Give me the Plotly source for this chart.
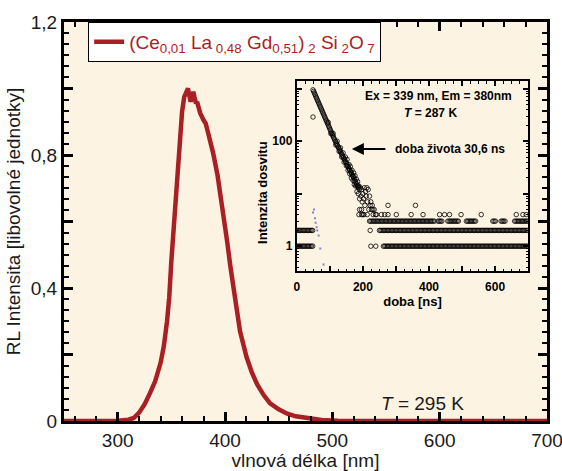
import numpy as np
import plotly.graph_objects as go

# ---------------- main RL spectrum ----------------
wavelength = [250, 280, 300, 310, 315, 320, 325, 330, 335, 340, 343, 346, 348, 350, 352, 354,
              356, 358, 360, 362, 364, 365.5, 367, 368, 369, 370.5, 371.5, 373, 374, 375.5,
              377, 380, 382, 384, 386, 389, 393, 396, 399, 402, 405, 408, 411, 414, 417, 420,
              425, 430, 436, 442, 450, 458, 466, 476, 490, 505, 520, 560, 600, 650, 700]
rl_intensity = [0.0, 0.0, 0.001, 0.004, 0.009, 0.025, 0.05, 0.083, 0.12, 0.175, 0.225, 0.30,
                0.37, 0.48, 0.58, 0.68, 0.77, 0.86, 0.93, 0.975, 0.995, 1.0, 0.975, 0.96,
                0.975, 0.99, 0.975, 0.955, 0.96, 0.935, 0.925, 0.905, 0.895, 0.87, 0.845,
                0.805, 0.74, 0.68, 0.61, 0.54, 0.465, 0.39, 0.335, 0.27, 0.225, 0.193, 0.146,
                0.11, 0.078, 0.053, 0.035, 0.022, 0.014, 0.008, 0.003, 0.001, 0.0, 0.0, 0.0,
                0.0, 0.0]

x_tickvals = [300, 400, 500, 600, 700]
x_ticktext = ["300", "400", "500", "600", "700"]
y_tickvals = [0, 0.2, 0.4, 0.6, 0.8, 1.0, 1.2]
y_ticktext = ["0", "", "0,4", "", "0,8", "", "1,2"]

# ---------------- inset: decay ----------------
decay_t = [49, 51, 53, 55, 57, 59, 61, 63, 65, 67, 69, 71, 73, 75, 77, 79, 81, 83, 85, 87,
           89, 91, 93, 95, 97, 99, 101, 103, 105, 107, 109, 111, 113, 115,
           117, 119, 121, 123, 125, 127, 129, 131, 133, 135, 137, 139, 141, 143, 145, 147,
           149, 151, 153, 155, 157, 159, 161, 163, 165, 167, 169, 171, 173, 175, 177, 179,
           181, 183, 185, 187, 189]
decay_counts = [955, 893, 835, 782, 730, 682, 638, 597, 558, 522, 489, 457, 428, 400, 373,
                349, 327, 305, 286, 267, 250, 234, 219, 205, 191, 179, 167, 156, 146, 137,
                128, 120, 112, 105,
                99, 93, 88, 83, 78, 74, 70, 66, 62, 58, 55, 52, 49, 46, 44, 41, 39, 37, 35,
                33, 31, 29, 28, 26, 25, 23, 22, 21, 20, 18, 17, 16, 15, 14, 14, 13, 12]

scatter_t = [49, 95, 103, 110, 118, 122, 128, 132, 136, 140, 143, 147, 150, 152, 155, 158,
             160, 162, 165, 167, 170, 172, 174, 176, 178, 180, 182, 184, 186, 188, 190, 190,
             192, 194, 196, 196, 198, 200, 200, 202, 204, 206, 208, 210, 212, 214, 216, 218,
             220, 222, 224, 226, 228, 230, 234, 238]
scatter_counts = [290, 230, 140, 140, 85, 100, 64, 75, 50, 60, 40, 50, 34, 45, 28, 36, 24,
                  33, 20, 28, 18, 25, 15, 22, 14, 19, 11, 17, 10, 14, 8, 5, 13, 9, 12, 5, 7,
                  10, 4, 8, 13, 6, 11, 9, 13, 7, 12, 5, 9, 6, 7, 5, 6, 5, 5, 4]

# background counts: (count level, time intervals [ns] where points are present)
floor_levels = [1, 2, 3]
floor_intervals = [
    [(0, 50), (224, 224), (239, 239), (262, 700)],
    [(0, 50), (222, 222), (250, 700)],
    [(220, 417), (427, 442), (457, 492), (513, 543), (593, 603), (618, 633), (659, 700)],
]
channel_ns = 4
level4_t = [188, 196, 203, 213, 231, 241, 256, 266, 276, 301, 346, 382, 432, 447, 462, 497,
            558, 664, 684, 694]
level6_t = [276, 359]

irf_t = [49, 52, 55, 57, 60, 62, 66, 71, 81]
irf_counts = [4.4, 5.0, 3.4, 2.8, 2.3, 2.0, 1.6, 0.9, 0.45]

inset_x_tickvals = [0, 100, 200, 300, 400, 500, 600, 700]
inset_x_ticktext = ["0", "", "200", "", "400", "", "600", ""]
inset_y_tickvals = [1, 10, 100, 1000]
inset_y_ticktext = ["1", "", "100", ""]

RED = "#A81F24"
FONT = "Liberation Sans, Arial, sans-serif"
BOLD12 = dict(size=12, weight="bold", color="black")

fig = go.Figure()

fig.add_trace(go.Scatter(
    x=wavelength, y=rl_intensity, mode="lines",
    line=dict(color=RED, width=4.5),
    name="(Ce<sub>0,01</sub> La<sub> 0,48</sub> Gd<sub>0,51</sub>)<sub> 2</sub> Si<sub> 2</sub>O<sub> 7</sub>",
    xaxis="x", yaxis="y", showlegend=True))

# build background points from intervals
bg_t, bg_c = [], []
for lvl, ivs in zip(floor_levels, floor_intervals):
    for a, b in ivs:
        ts = np.arange(a, b + 0.01, channel_ns) if b > a else np.array([a])
        bg_t.extend(ts.tolist())
        bg_c.extend([lvl] * len(ts))
bg_t += level4_t + level6_t
bg_c += [4] * len(level4_t) + [6] * len(level6_t)

marker_open = dict(symbol="circle-open", size=4.5, color="black",
                   line=dict(width=0.8, color="black"))
for xs, ys in [(bg_t, bg_c), (decay_t, decay_counts), (scatter_t, scatter_counts)]:
    fig.add_trace(go.Scatter(x=xs, y=ys, mode="markers", marker=marker_open,
                             xaxis="x2", yaxis="y2", showlegend=False))

fig.add_trace(go.Scatter(x=irf_t, y=irf_counts, mode="markers",
                         marker=dict(symbol="square", size=2, color="#7A86D0"),
                         xaxis="x2", yaxis="y2", showlegend=False))

axis_common = dict(showline=True, linecolor="black", mirror="ticks", ticks="inside",
                   tickcolor="black", showgrid=False, zeroline=False, automargin=False,
                   ticklabeloverflow="allow")

fig.update_layout(
    width=562, height=471,
    margin=dict(l=64, r=15, t=22, b=50),
    paper_bgcolor="white",
    plot_bgcolor="#FDF3E3",
    font=dict(family=FONT, color="#1a1a1a"),
    xaxis=dict(domain=[0, 1], range=[250, 700], linewidth=3, ticklen=9, tickwidth=2.5,
               tickvals=x_tickvals, ticktext=x_ticktext, tickfont=dict(size=19),
               minor=dict(dtick=20, tick0=0, ticks="inside", ticklen=5, tickwidth=2,
                          tickcolor="black"),
               title=dict(text="vlnová délka [nm]", font=dict(size=19), standoff=4),
               **axis_common),
    yaxis=dict(domain=[0, 1], range=[0, 1.2], linewidth=3, ticklen=9, tickwidth=2.5,
               tickvals=y_tickvals, ticktext=y_ticktext, tickfont=dict(size=19),
               minor=dict(dtick=0.2 / 6, tick0=0, ticks="inside", ticklen=5, tickwidth=2,
                          tickcolor="black"),
               title=dict(text="RL Intensita [libovolné jednotky]", font=dict(size=19),
                          standoff=6),
               **axis_common),
    xaxis2=dict(domain=[0.482, 0.961], anchor="y2", range=[0, 700], linewidth=2,
                ticklen=5, tickwidth=1.5, tickvals=inset_x_tickvals,
                ticktext=inset_x_ticktext, tickfont=BOLD12, ticklabelstandoff=3,
                minor=dict(dtick=25, tick0=0, ticks="inside", ticklen=2.5, tickwidth=1,
                           tickcolor="black"),
                title=dict(text="doba [ns]", font=dict(size=13, weight="bold", color="black"),
                           standoff=4),
                **axis_common),
    yaxis2=dict(domain=[0.375, 0.851], anchor="x2", type="log", range=[-0.48, 3.14],
                linewidth=2, ticklen=5, tickwidth=1.5, tickvals=inset_y_tickvals,
                ticktext=inset_y_ticktext, tickfont=BOLD12,
                minor=dict(tickvals=[m * 10 ** k for k in range(-1, 4) for m in range(2, 10)],
                           ticks="inside", ticklen=2.5, tickwidth=1, tickcolor="black"),
                **axis_common),
    legend=dict(x=0.05, y=1.0, xanchor="left", yanchor="top", bgcolor="white",
                bordercolor="black", borderwidth=1, font=dict(size=19, color=RED)),
    shapes=[dict(type="rect", xref="x2 domain", yref="y2 domain", x0=0, x1=1, y0=0, y1=1,
                 fillcolor="white", line=dict(width=0), layer="below")],
    annotations=[
        dict(x=584, y=0.054, xref="x", yref="y", text="<i>T</i> = 295 K", showarrow=False,
             font=dict(size=19, color="#1a1a1a")),
        dict(x=0.776, y=0.8145, xref="paper", yref="paper", xanchor="center",
             yanchor="middle", text="Ex = 339 nm, Em = 380nm", showarrow=False,
             font=BOLD12),
        dict(x=0.758, y=0.7727, xref="paper", yref="paper", xanchor="center",
             yanchor="middle", text="<i>T</i> = 287 K", showarrow=False, font=BOLD12),
        dict(x=0.681, y=0.6817, xref="paper", yref="paper", xanchor="left",
             yanchor="middle", text="doba života 30,6 ns", showarrow=False, font=BOLD12),
        dict(x=0.596, y=0.6817, xref="paper", yref="paper", text="", showarrow=True,
             ax=35, ay=0, arrowhead=2, arrowsize=1.2, arrowwidth=2, arrowcolor="black"),
        dict(x=0.412, y=0.574, xref="paper", yref="paper", xanchor="center",
             yanchor="middle", text="Intenzita dosvitu", textangle=-90, showarrow=False,
             font=dict(size=13, weight="bold", color="black")),
    ],
)

fig.write_html("out.html")
